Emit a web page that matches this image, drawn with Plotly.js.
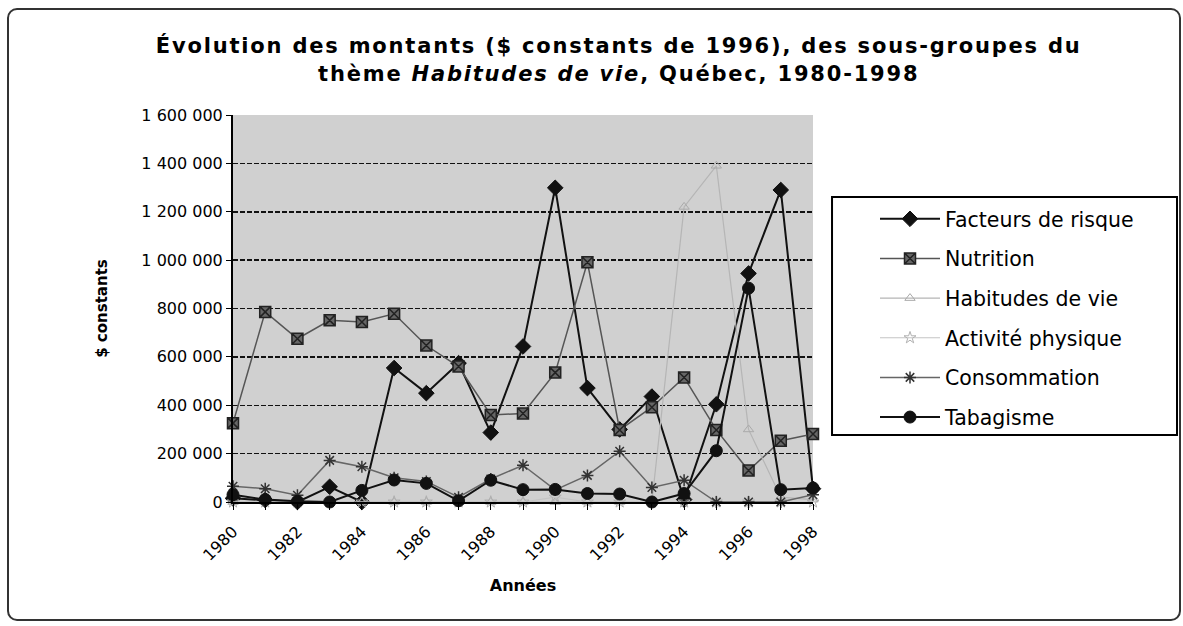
<!DOCTYPE html>
<html>
<head>
<meta charset="utf-8">
<script src="https://cdn.plot.ly/plotly-3.0.1.min.js"></script>
<style>
  body { margin: 0; background: #ffffff; overflow: hidden; }
  #wrap { position: relative; width: 1183px; height: 626px; overflow: hidden; }
  #chart { width: 1183px; height: 626px; }
  #frame { position: absolute; left: 7px; top: 8px; width: 1170px; height: 609px;
           border: 2px solid #333; border-radius: 10px; pointer-events: none; }
  .gtitle { letter-spacing: 1.8px; }
</style>
</head>
<body>
<div id="wrap"><div id="chart"></div><div id="frame"></div></div>
<script>
const years = [1980, 1981, 1982, 1983, 1984, 1985, 1986, 1987, 1988, 1989,
               1990, 1991, 1992, 1993, 1994, 1995, 1996, 1997, 1998];
const yearLabels = ["1980", "", "1982", "", "1984", "", "1986", "", "1988", "",
                    "1990", "", "1992", "", "1994", "", "1996", "", "1998"];

const facteursDeRisque = [15000, 8000, 0, 63000, 0, 554000, 450000, 574000, 287000, 643000,
                          1299000, 471000, 300000, 436000, 10000, 404000, 945000, 1290000, 55000];
const nutrition = [326000, 786000, 675000, 751000, 744000, 778000, 647000, 560000, 360000, 366000,
                   535000, 991000, 298000, 392000, 515000, 298000, 130000, 253000, 281000];
const habitudesDeVie = [0, 0, 0, 0, 0, 0, 0, 0, 0, 0,
                        0, 0, 0, 0, 1220000, 1390000, 300000, 20000, 10000];
const activitePhysique = [0, 0, 0, 0, 0, 0, 0, 0, 0, 0,
                          20000, 0, 0, 0, 0, 0, 0, 0, 0];
const consommation = [65000, 55000, 28000, 172000, 146000, 100000, 85000, 20000, 95000, 152000,
                      50000, 110000, 210000, 60000, 90000, 0, 0, 0, 30000];
const tabagisme = [30000, 10000, 3000, 0, 48000, 91000, 77000, 5000, 90000, 51000,
                   52000, 35000, 33000, 0, 35000, 212000, 884000, 51000, 58000];

const seriesNames = ["Facteurs de risque", "Nutrition", "Habitudes de vie",
                     "Activité physique", "Consommation", "Tabagisme"];

const FONT = "DejaVu Sans, Arial, sans-serif";

function mk(name, y, lineColor, lineWidth, symbol, mColor, mSize, mLineColor, mLineWidth, grp) {
  return {
    type: "scatter", mode: "lines+markers", name: name, x: years, y: y,
    legendgroup: grp,
    line: { color: lineColor, width: lineWidth },
    marker: { symbol: symbol, color: mColor, size: mSize,
              line: { color: mLineColor, width: mLineWidth } },
    cliponaxis: false
  };
}

const traces = [
  mk(seriesNames[0], facteursDeRisque, "#111", 2, "diamond", "#111", 12, "#111", 1, "g1"),
  mk(seriesNames[1], nutrition, "#555", 1.5, "square-x", "#666", 11, "#222", 1.5, "g2"),
  mk(seriesNames[2], habitudesDeVie, "#b5b5b5", 1.2, "triangle-up-open", "#aaa", 9, "#aaa", 1, "g3"),
  mk(seriesNames[3], activitePhysique, "#c4c4c4", 1.2, "star-open", "#b0b0b0", 9, "#b0b0b0", 1, "g4"),
  mk(seriesNames[4], consommation, "#666", 1.5, "asterisk-open", "#333", 10, "#333", 1.5, "g5"),
  mk(seriesNames[5], tabagisme, "#111", 2, "circle", "#111", 12, "#111", 1, "g6")
];

const layout = {
  width: 1183, height: 626,
  margin: { l: 233, r: 370, t: 115, b: 124, pad: 0 },
  paper_bgcolor: "#ffffff",
  plot_bgcolor: "#d0d0d0",
  separators: ", ",
  font: { family: FONT, color: "#000", size: 15 },
  showlegend: true,
  title: {
    text: "Évolution des montants ($ constants de 1996), des sous-groupes du<br>thème <i>Habitudes de vie</i>, Québec, 1980-1998",
    font: { family: FONT, size: 21, weight: "bold", color: "#000" },
    x: 0.523, xanchor: "center", y: 0.915, yanchor: "top"
  },
  xaxis: {
    range: [1980, 1998],
    tickmode: "array", tickvals: years, ticktext: yearLabels,
    tickangle: -45, ticks: "outside", ticklen: 6, tickcolor: "#000",
    ticklabelstandoff: 6,
    showline: true, linecolor: "#000", linewidth: 2,
    showgrid: false, zeroline: false,
    tickfont: { family: FONT, size: 16 },
    title: { text: "Années", font: { family: FONT, size: 16, weight: "bold" }, standoff: 16 }
  },
  yaxis: {
    range: [0, 1600000], dtick: 200000, tick0: 0,
    tickformat: ",d",
    ticks: "outside", ticklen: 5, tickcolor: "#000",
    showline: true, linecolor: "#000", linewidth: 2,
    showgrid: true, gridcolor: "#111", gridwidth: 1.5, griddash: "5px,2px",
    zeroline: false,
    tickfont: { family: FONT, size: 16 },
    title: { text: "$ constants", font: { family: FONT, size: 15, weight: "bold" }, standoff: 30 }
  },
  shapes: [{
    type: "rect", xref: "paper", yref: "paper",
    x0: 1.0328, x1: 1.6276, y0: 0.173, y1: 0.788,
    fillcolor: "#ffffff", line: { color: "#000", width: 2 }, layer: "below"
  }],
  legend: {
    x: 1.1069, y: 0.783, xanchor: "left", yanchor: "top",
    bgcolor: "rgba(0,0,0,0)", borderwidth: 0,
    font: { family: FONT, size: 20.5, color: "#000" },
    itemwidth: 60, tracegroupgap: 10, traceorder: "grouped"
  }
};

Plotly.newPlot("chart", traces, layout, { displayModeBar: false, staticPlot: true });
</script>
</body>
</html>
